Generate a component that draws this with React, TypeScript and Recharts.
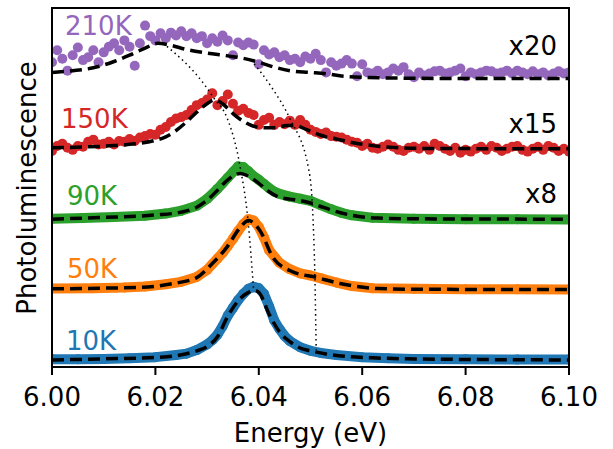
import React from 'react';
import { ComposedChart, Line, Scatter, XAxis, YAxis } from 'recharts';

// energy grid of the noisy (high temperature) spectra, 1 meV steps
const noisyEnergy = Array.from({ length: 101 }, (_, i) => +(6 + i * 0.001).toFixed(3));

// 210K data (x20), height above its own baseline
const pl210 = [
  2.3, 4.0, 2.8, 1.1, 3.3, 4.4, 2.6, 3.0, 4.0, 2.3,
  3.7, 4.5, 5.0, 4.0, 5.4, 4.5, 1.8, 5.0, 7.5, 6.0,
  5.4, 6.4, 5.7, 6.5, 6.1, 6.7, 6.0, 6.4, 5.7, 6.0,
  5.0, 5.7, 5.2, 6.1, 5.4, 3.3, 5.1, 4.7, 5.1, 4.8,
  2.0, 4.0, 3.4, 3.7, 3.0, 3.3, 2.6, 2.8, 2.3, 3.1,
  2.8, 3.5, 2.6, 0.85, 2.3, 1.8, 2.1, 2.6, 2.1, 0.3,
  2.0, 0.85, 0.7, 1.1, 0.6, 0.85, 1.4, 1.1, 1.6, 0.6,
  0.15, 0.85, 0.4, 0.7, 1.0, 1.1, 0.7, 0.85, 1.1, 1.4,
  0.3, 0.85, 0.6, 0.85, 1.1, 1.0, 0.7, 0.85, 1.1, 0.7,
  1.1, 0.85, 0.6, 1.0, 0.6, 0.85, 0.4, 0.7, 1.0, 0.7,
  0.85,
];

// 150K data (x15)
const pl150 = [
  -0.3, 0.4, 0.7, 0.15, -0.15, 0.4, 0.3, 1.0, 1.3, 0.6,
  0.7, 1.0, 0.6, 1.1, 1.0, 1.4, 1.1, 1.6, 1.8, 2.1,
  2.0, 2.7, 3.1, 3.8, 4.3, 4.5, 4.8, 5.5, 6.2, 6.5,
  7.0, 7.9, 6.2, 6.8, 7.7, 6.4, 5.4, 5.7, 5.1, 4.8,
  3.4, 4.1, 4.4, 3.4, 3.8, 3.5, 4.0, 3.4, 4.1, 3.4,
  2.7, 2.4, 2.1, 2.3, 1.8, 1.7, 1.6, 1.3, 1.0, 0.85,
  0.4, 0.7, 0.15, 0, 0.3, 0.6, 0.3, -0.15, -0.3, 0.15,
  0.3, 0, 0.4, -0.15, 0.7, 0.4, 0, -0.3, 0.15, -0.55,
  -0.15, -0.4, 0, 0.3, -0.15, 0.4, 0.15, -0.3, 0, 0.3,
  0.4, -0.15, -0.4, 0, 0.3, -0.15, 0.4, 0.15, -0.3, 0,
  -0.4,
];

// 90K data (x8)
const e90 = [6.000, 6.006, 6.012, 6.018, 6.022, 6.025, 6.028, 6.030, 6.032, 6.033, 6.034, 6.035, 6.036, 6.037, 6.038, 6.039, 6.040, 6.041, 6.042, 6.043, 6.044, 6.046, 6.048, 6.050, 6.052, 6.054, 6.056, 6.058, 6.062, 6.070, 6.080, 6.090, 6.100];
const pl90 = [0.05, 0.15, 0.3, 0.5, 0.8, 1.2, 1.9, 2.9, 4.3, 5.1, 5.9, 6.7, 7.5, 7.4, 6.8, 6.1, 5.6, 5.0, 4.4, 3.9, 3.6, 3.2, 2.9, 2.6, 2.0, 1.4, 0.9, 0.55, 0.2, 0.05, 0, 0, -0.05];

// 50K data
const e50 = [6.000, 6.008, 6.014, 6.018, 6.022, 6.025, 6.028, 6.030, 6.031, 6.032, 6.033, 6.034, 6.035, 6.036, 6.037, 6.038, 6.039, 6.040, 6.041, 6.042, 6.044, 6.046, 6.048, 6.050, 6.052, 6.055, 6.058, 6.062, 6.070, 6.080, 6.090, 6.100];
const pl50 = [0.15, 0.2, 0.3, 0.45, 0.75, 1.1, 1.8, 2.8, 3.6, 4.4, 5.2, 6.2, 7.2, 8.3, 9.3, 10.0, 9.8, 8.9, 7.4, 5.6, 3.8, 2.9, 2.3, 2.0, 1.6, 1.0, 0.5, 0.2, 0.1, 0.05, 0.05, 0];

// 10K data
const e10 = [6.000, 6.005, 6.010, 6.015, 6.020, 6.024, 6.026, 6.028, 6.030, 6.031, 6.032, 6.033, 6.034, 6.035, 6.036, 6.037, 6.038, 6.039, 6.040, 6.041, 6.042, 6.043, 6.044, 6.045, 6.046, 6.048, 6.050, 6.052, 6.055, 6.060, 6.065, 6.070, 6.080, 6.090, 6.100];
const pl10 = [0.1, 0.1, 0.15, 0.25, 0.4, 0.7, 0.9, 1.4, 2.2, 2.8, 3.6, 4.8, 6.3, 7.4, 8.5, 9.4, 10.1, 10.4, 10.2, 9.4, 7.6, 5.6, 4.4, 3.4, 2.7, 1.8, 1.3, 1.0, 0.7, 0.4, 0.25, 0.15, 0.1, 0.05, 0.05];

// fits (dashed)
const fitE210 = [6.000, 6.004, 6.008, 6.012, 6.015, 6.018, 6.0205, 6.023, 6.026, 6.030, 6.034, 6.037, 6.040, 6.043, 6.046, 6.050, 6.053, 6.056, 6.060, 6.066, 6.075, 6.100];
const fit210 = [0.85, 1.1, 1.5, 2.4, 3.3, 4.3, 5.0, 4.7, 4.1, 3.6, 3.2, 2.85, 2.3, 1.6, 1.1, 0.85, 0.65, 0.35, 0.15, 0.05, 0, 0];
const fitE150 = [6.000, 6.006, 6.012, 6.016, 6.020, 6.022, 6.024, 6.026, 6.028, 6.030, 6.0315, 6.033, 6.035, 6.037, 6.039, 6.041, 6.043, 6.0455, 6.047, 6.049, 6.051, 6.053, 6.055, 6.058, 6.062, 6.066, 6.072, 6.100];
const fit150 = [0.15, 0.25, 0.45, 0.7, 1.2, 1.7, 2.6, 3.8, 5.2, 6.4, 6.95, 6.4, 5.0, 3.9, 3.2, 3.0, 3.0, 3.3, 3.3, 2.8, 2.2, 1.7, 1.4, 0.9, 0.45, 0.2, 0.05, 0];
const fitE90 = [6.000, 6.010, 6.020, 6.025, 6.028, 6.030, 6.032, 6.034, 6.0364, 6.038, 6.040, 6.042, 6.044, 6.046, 6.048, 6.050, 6.052, 6.054, 6.058, 6.063, 6.070, 6.100];
const fit90 = [0, 0.25, 0.6, 1.0, 1.7, 2.7, 4.1, 5.6, 6.5, 6.1, 5.1, 3.9, 3.1, 2.85, 2.65, 2.3, 1.8, 1.3, 0.55, 0.15, 0.05, 0];
const fitE50 = [6.000, 6.010, 6.017, 6.0234, 6.028, 6.031, 6.0338, 6.0364, 6.038, 6.0402, 6.0428, 6.046, 6.0513, 6.0557, 6.058, 6.063, 6.070, 6.100];
const fit50 = [0.1, 0.2, 0.3, 0.85, 1.7, 3.7, 6.0, 8.8, 9.8, 8.4, 4.5, 2.7, 1.7, 0.85, 0.55, 0.15, 0.05, 0];
const fitE10 = [6.000, 6.010, 6.020, 6.024, 6.028, 6.030, 6.032, 6.034, 6.036, 6.038, 6.039, 6.040, 6.042, 6.044, 6.046, 6.048, 6.050, 6.053, 6.057, 6.062, 6.070, 6.085, 6.100];
const fit10 = [0, 0.15, 0.35, 0.6, 1.3, 1.9, 3.3, 6.2, 8.4, 9.6, 9.9, 9.6, 6.5, 4.0, 2.6, 1.7, 1.3, 0.85, 0.5, 0.3, 0.15, 0.05, 0];

// dotted guides through the peak positions (absolute plot units)
const guideAE = [6.0215, 6.0296, 6.0315, 6.0338, 6.0364, 6.0379, 6.0390];
const guideAY = [45.0, 39.0, 37.0, 34.5, 27.4, 19.9, 9.9];
const guideBE = [6.0385, 6.0426, 6.046, 6.0497, 6.0505, 6.0509, 6.0511];
const guideBY = [42.6, 38.6, 34.3, 26.9, 19.9, 10.0, 1.4];

const energyTicks = [6.0, 6.02, 6.04, 6.06, 6.08, 6.1];
const yRange: [number, number] = [-1, 50];
const xRange: [number, number] = [6, 6.1];

const pts = (es: number[], vs: number[], offset = 0) => es.map((e, i) => ({ x: e, y: vs[i] + offset }));

const FONT = 'DejaVu Sans, sans-serif';
const spine = { stroke: '#000', strokeWidth: 2 };
const NoMarker = () => <g />;

// plot box, matches the chart margins below
const W = 613;
const H = 449;
const margin = { top: 8, right: 44, left: 52, bottom: 0 };
const xAxisHeight = 82;

const series = [
  { name: '10K', e: e10, v: pl10, fe: fitE10, f: fit10, offset: 0, color: '#1f77b4', noisy: false },
  { name: '50K', e: e50, v: pl50, fe: fitE50, f: fit50, offset: 10, color: '#ff7f0e', noisy: false },
  { name: '90K', e: e90, v: pl90, fe: fitE90, f: fit90, offset: 20, color: '#2ca02c', noisy: false },
  { name: '150K', e: noisyEnergy, v: pl150, fe: fitE150, f: fit150, offset: 30, color: '#d62728', noisy: true },
  { name: '210K', e: noisyEnergy, v: pl210, fe: fitE210, f: fit210, offset: 40, color: '#9467bd', noisy: true },
];

const App = () => {
  const boxW = W - margin.left - margin.right;
  const boxH = H - margin.top - margin.bottom - xAxisHeight;
  return (
    <div style={{ position: 'absolute', left: 0, top: 0, width: W, height: H, background: '#fff' }}>
      <ComposedChart width={W} height={H} margin={margin}>
        <XAxis
          dataKey="x"
          type="number"
          domain={xRange}
          ticks={energyTicks}
          allowDataOverflow
          tickFormatter={(v: number) => v.toFixed(2)}
          height={xAxisHeight}
          tickSize={8}
          tickMargin={13}
          axisLine={spine}
          tickLine={spine}
          tick={{ fill: '#000', fontSize: 26, fontFamily: FONT }}
          label={{ value: 'Energy (eV)', position: 'insideBottom', offset: 7, fill: '#000', fontSize: 26, fontFamily: FONT }}
        />
        <YAxis type="number" domain={yRange} allowDataOverflow width={0} tick={false} tickLine={false} axisLine={spine} />
        {series.map((s) => (
          <Line
            key={'d' + s.name}
            data={pts(s.e, s.v, s.offset)}
            dataKey="y"
            type="linear"
            stroke={s.noisy ? 'none' : s.color}
            strokeWidth={s.noisy ? 0 : 10}
            strokeLinejoin="round"
            dot={{ r: 5, fill: s.color, stroke: 'none' }}
            activeDot={false}
            isAnimationActive={false}
          />
        ))}
        {series.map((s) => (
          <Scatter
            key={'f' + s.name}
            data={pts(s.fe, s.f, s.offset)}
            dataKey="y"
            fill="#000"
            shape={NoMarker}
            line={{ stroke: '#000', strokeWidth: 3.5, strokeDasharray: '12 6', fill: 'none' }}
            lineJointType="monotoneX"
            isAnimationActive={false}
          />
        ))}
        <Scatter data={pts(guideAE, guideAY)} dataKey="y" fill="#000" shape={NoMarker} line={{ stroke: '#000', strokeWidth: 1.5, strokeDasharray: '1.5 3.5', fill: 'none' }} lineJointType="monotoneX" isAnimationActive={false} />
        <Scatter data={pts(guideBE, guideBY)} dataKey="y" fill="#000" shape={NoMarker} line={{ stroke: '#000', strokeWidth: 1.5, strokeDasharray: '1.5 3.5', fill: 'none' }} lineJointType="monotoneX" isAnimationActive={false} />
      </ComposedChart>
      <svg width={W} height={H} style={{ position: 'absolute', left: 0, top: 0, pointerEvents: 'none' }} fontFamily={FONT} fontSize={26}>
        <rect x={margin.left} y={margin.top} width={boxW} height={boxH} fill="none" stroke="#000" strokeWidth={2} />
        <text x={36} y={188} transform="rotate(-90 36 188)" textAnchor="middle" fill="#000">Photoluminescence</text>
        <text x={65} y={35} fill="#9467bd">210K</text>
        <text x={61} y={128} fill="#d62728">150K</text>
        <text x={67} y={205} fill="#2ca02c">90K</text>
        <text x={67} y={278} fill="#ff7f0e">50K</text>
        <text x={66} y={350} fill="#1f77b4">10K</text>
        <text x={557} y={55} textAnchor="end" fill="#000">x20</text>
        <text x={557} y={133} textAnchor="end" fill="#000">x15</text>
        <text x={557} y={203} textAnchor="end" fill="#000">x8</text>
      </svg>
    </div>
  );
};

export default App;
